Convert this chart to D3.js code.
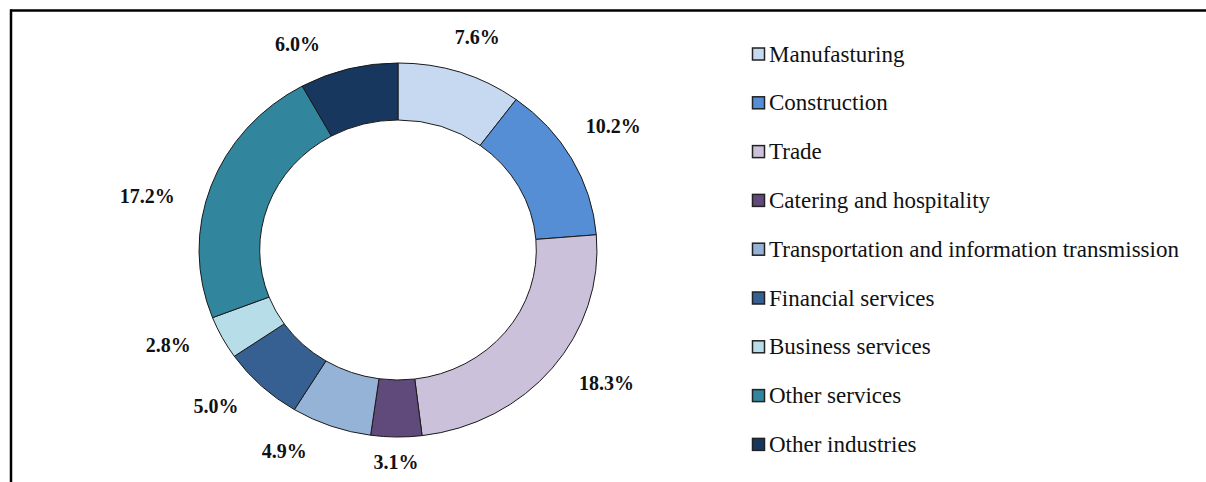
<!DOCTYPE html>
<html>
<head>
<meta charset="utf-8">
<script src="https://cdn.jsdelivr.net/npm/d3@7"></script>
<style>
  html, body { margin: 0; padding: 0; background: #fff; }
  svg { display: block; }
  .lbl { font-family: "Liberation Serif", "Times New Roman", serif; font-weight: bold; font-size: 20px; fill: #111; }
  .leg { font-family: "Liberation Serif", "Times New Roman", serif; font-size: 23px; fill: #111; }
</style>
</head>
<body>
<div id="chart"></div>
<script>
// industries, in the order drawn clockwise from 12 o'clock
const categories = [
  'Manufasturing',
  'Construction',
  'Trade',
  'Catering and hospitality',
  'Transportation and information transmission',
  'Financial services',
  'Business services',
  'Other services',
  'Other industries'
];
const shares = [7.6, 10.2, 18.3, 3.1, 4.9, 5.0, 2.8, 17.2, 6.0];
const labels = ['7.6%', '10.2%', '18.3%', '3.1%', '4.9%', '5.0%', '2.8%', '17.2%', '6.0%'];
const colors = ['#c6d9f1', '#558ed5', '#ccc1da', '#604a7b', '#95b3d7', '#376092', '#b7dee8', '#31859c', '#17375e'];

// label angle tweaks (degrees) so labels sit where the original put them
const labelNudge = [0, -4.5, -3, 0, 7, 2.5, 3, -6, -9];

const width = 1206;
const height = 482;
const cx = 398, cy = 250;
const outerR = 187, innerR = 130;
const sx = 1.064; // donut is a bit wider than tall

const svg = d3.select('#chart').append('svg')
  .attr('width', width)
  .attr('height', height);

// frame (top and left edges only)
svg.append('line').attr('x1', 10).attr('x2', width).attr('y1', 10.5).attr('y2', 10.5)
  .attr('stroke', '#000').attr('stroke-width', 2.5);
svg.append('line').attr('x1', 11).attr('x2', 11).attr('y1', 9.5).attr('y2', height)
  .attr('stroke', '#000').attr('stroke-width', 2.5);

const pie = d3.pie().sort(null).value(d => d)(shares);
const arc = d3.arc().innerRadius(innerR).outerRadius(outerR);

const donut = svg.append('g')
  .attr('transform', `translate(${cx},${cy}) scale(${sx},1)`);

donut.selectAll('path')
  .data(pie)
  .join('path')
  .attr('d', arc)
  .attr('fill', (d, i) => colors[i])
  .attr('stroke', '#1a1a1a')
  .attr('stroke-width', 1)
  .attr('vector-effect', 'non-scaling-stroke');

// labels outside the ring, kept inside the plot area
const gap = 30;
const maxY = height - 20;
const lblG = svg.append('g');
pie.forEach((d, i) => {
  const t = lblG.append('text')
    .attr('class', 'lbl')
    .attr('text-anchor', 'middle')
    .attr('dominant-baseline', 'central')
    .text(labels[i]);
  const w = t.node().getComputedTextLength();
  const h = 15;
  const a = (d.startAngle + d.endAngle) / 2 + labelNudge[i] * Math.PI / 180;
  const s = Math.sin(a), c = Math.cos(a);
  const r = outerR + gap;
  const x = cx + sx * r * s + s * w / 2;
  const y = Math.min(cy - r * c - c * h / 2, maxY);
  t.attr('x', x).attr('y', y);
});

// legend
const legX = 752, legY = 54, legStep = 48.8, box = 12;
const leg = svg.append('g');
const rows = leg.selectAll('g')
  .data(categories)
  .join('g')
  .attr('transform', (d, i) => `translate(${legX},${legY + i * legStep})`);

rows.append('rect')
  .attr('x', 0.5)
  .attr('y', -box / 2)
  .attr('width', box)
  .attr('height', box)
  .attr('fill', (d, i) => colors[i])
  .attr('stroke', '#222')
  .attr('stroke-width', 1.5);

rows.append('text')
  .attr('class', 'leg')
  .attr('x', 17)
  .attr('y', 0)
  .attr('dominant-baseline', 'central')
  .text(d => d);
</script>
</body>
</html>
